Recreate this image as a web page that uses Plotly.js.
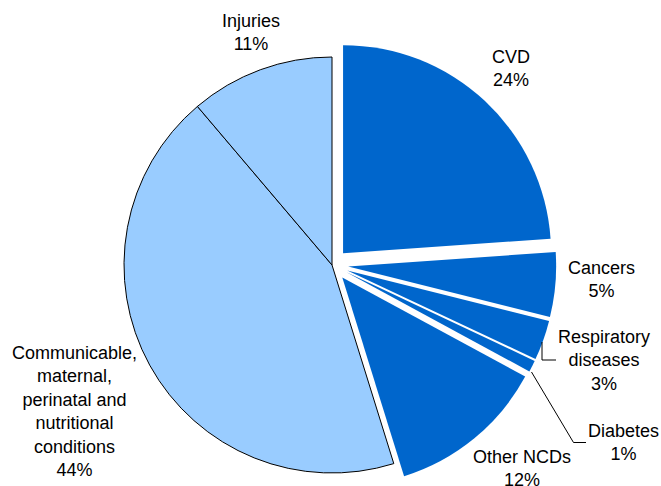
<!DOCTYPE html>
<html>
<head>
<meta charset="utf-8">
<script src="https://cdn.plot.ly/plotly-3.0.1.min.js"></script>
<style>
html,body{margin:0;padding:0;overflow:hidden;background:#fff;}
#chart{width:661px;height:500px;}
</style>
</head>
<body>
<div id="chart"></div>
<script>
// Data
var categories = ["CVD", "Cancers", "Respiratory diseases", "Diabetes", "Other NCDs",
                  "Communicable, maternal, perinatal and nutritional conditions", "Injuries"];
var values = [23.9, 5.0, 3.1, 0.9, 12.3, 43.6, 11.2];
var pctLabels = ["24%", "5%", "3%", "1%", "12%", "44%", "11%"];
var labelLines = [
  ["CVD"],
  ["Cancers"],
  ["Respiratory", "diseases"],
  ["Diabetes"],
  ["Other NCDs"],
  ["Communicable,", "maternal,", "perinatal and", "nutritional", "conditions"],
  ["Injuries"]
];
var isNCD = [true, true, true, true, true, false, false];

// Styling
var W = 661, H = 500;
var dark = "#0066CC", light = "#99CCFF";
var pullAmt = 0.078;
var R = 208, CX = 332, CY = 265;
var boxHalf = R * (1 + pullAmt);

function px(x){ return x / W; }
function py(y){ return (H - y) / H; }

// label block centres (pixels)
var labelPos = [
  [510.5, 68], [601, 279], [603.5, 360], [623.5, 442.5],
  [522, 468.6], [74, 411.7], [251, 33]
];

var trace = {
  type: "pie",
  labels: categories,
  values: values,
  sort: false,
  direction: "clockwise",
  rotation: 0,
  textinfo: "none",
  hoverinfo: "none",
  showlegend: false,
  pull: isNCD.map(function(d){ return d ? pullAmt : 0; }),
  marker: {
    colors: isNCD.map(function(d){ return d ? dark : light; }),
    line: {
      color: isNCD.map(function(d){ return d ? "#ffffff" : "#000000"; }),
      width: isNCD.map(function(d){ return d ? 0 : 1; })
    }
  },
  domain: {
    x: [px(CX - boxHalf), px(CX + boxHalf)],
    y: [py(CY + boxHalf), py(CY - boxHalf)]
  }
};

var annotations = categories.map(function(c, i){
  return {
    xref: "paper", yref: "paper",
    x: px(labelPos[i][0]), y: py(labelPos[i][1]),
    xanchor: "center", yanchor: "middle",
    text: labelLines[i].concat([pctLabels[i]]).join("<br>"),
    showarrow: false,
    align: "center",
    font: {family: "Liberation Sans, Arial, sans-serif", size: 18, color: "#000"}
  };
});

function pathPx(pts){
  return pts.map(function(p, k){ return (k ? "L" : "M") + px(p[0]) + "," + py(p[1]); }).join(" ");
}

var shapes = [
  {type: "path", xref: "paper", yref: "paper",
   path: pathPx([[542, 342], [542, 360], [556, 360]]),
   line: {color: "#000", width: 1}},
  {type: "path", xref: "paper", yref: "paper",
   path: pathPx([[531.5, 372], [573.5, 442.5], [586, 442.5]]),
   line: {color: "#000", width: 1}}
];

var layout = {
  width: W, height: H,
  margin: {l: 0, r: 0, t: 0, b: 0},
  paper_bgcolor: "#fff",
  plot_bgcolor: "#fff",
  showlegend: false,
  annotations: annotations,
  shapes: shapes
};

Plotly.newPlot("chart", [trace], layout, {staticPlot: true, displayModeBar: false});
</script>
</body>
</html>
